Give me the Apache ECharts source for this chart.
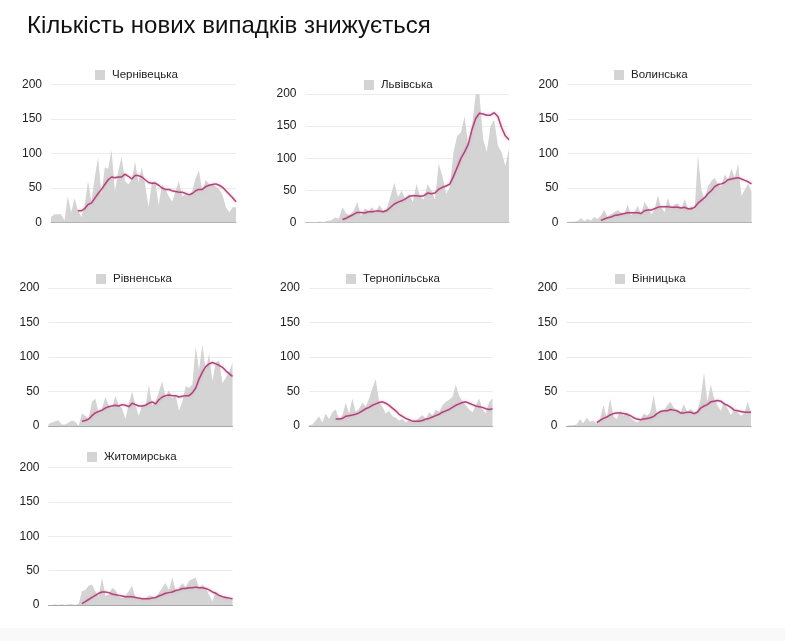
<!DOCTYPE html>
<html>
<head>
<meta charset="utf-8">
<script src="https://cdn.jsdelivr.net/npm/echarts@6/dist/echarts.min.js"></script>
<style>
html,body{margin:0;padding:0;background:#fff;}
#chart{width:785px;height:641px;}
</style>
</head>
<body>
<div id="chart"></div>
<script>
// ---- DATA ----
const TITLE = 'Кількість нових випадків знижується';
const REGIONS = ['Чернівецька','Львівська','Волинська','Рівненська','Тернопільська','Вінницька','Житомирська'];
const Y_TICKS = [0, 50, 100, 150, 200];

const CHERNIVTSI_DAILY = [8,12,12,12,3,38,15,35,18,8,25,60,30,65,95,40,80,78,105,45,75,95,60,55,62,88,58,80,55,22,58,60,25,55,48,38,30,45,60,38,40,38,45,65,75,45,62,55,55,52,48,40,22,15,22,22];
const CHERNIVTSI_AVG = [null,null,null,null,null,null,null,null,17,17,20,26,28,35,42,48,55,62,66,65,66,66,70,67,63,68,68,66,62,58,57,57,54,50,48,48,46,45,44,44,42,40,42,46,48,48,52,54,55,56,54,51,46,41,36,30];

const LVIV_DAILY = [1,1,1,1,2,1,3,4,8,6,24,14,12,18,32,10,22,18,24,16,28,18,22,42,62,40,50,36,44,32,60,40,36,60,50,36,92,72,45,55,110,135,140,165,120,150,200,200,130,110,150,160,120,110,88,115];
const LVIV_AVG = [null,null,null,null,null,null,null,null,null,null,5,7,10,13,16,16,15,17,17,18,18,17,19,24,29,32,34,37,41,42,42,41,42,46,45,46,52,55,57,60,72,86,100,110,122,145,162,170,169,167,167,171,165,148,135,129];

const VOLYN_DAILY = [1,1,1,2,6,2,5,3,8,5,10,18,8,12,15,18,14,12,26,10,16,24,12,30,22,12,18,40,22,15,36,20,26,28,18,34,20,24,18,98,48,32,52,60,65,55,52,70,62,78,65,85,38,48,56,45];
const VOLYN_AVG = [null,null,null,null,null,null,null,null,null,null,3,5,7,8,10,11,12,13,14,14,14,14,13,17,18,18,20,22,23,23,23,22,22,22,21,22,20,20,22,28,32,36,42,46,52,55,56,58,62,63,64,65,63,61,59,56];

const RIVNE_DAILY = [3,5,7,8,2,2,5,8,6,0,18,15,10,35,40,18,25,42,30,25,44,30,25,10,32,50,30,15,30,28,60,30,35,50,65,42,52,40,45,22,35,58,55,60,115,82,118,80,105,65,92,95,62,70,78,92];
const RIVNE_AVG = [null,null,null,null,null,null,null,null,null,null,7,8,10,15,19,21,23,26,28,29,30,29,31,30,28,33,31,29,29,30,33,35,32,38,42,44,45,44,44,42,43,44,44,48,55,68,78,86,90,92,90,88,85,80,76,72];

const TERNOPIL_DAILY = [1,2,8,14,5,18,10,20,24,10,15,34,18,40,20,25,34,28,40,55,68,35,28,18,22,14,12,8,10,5,8,5,8,12,16,10,20,15,24,20,30,35,38,42,60,44,36,30,24,20,30,40,24,18,35,40];
const TERNOPIL_AVG = [null,null,null,null,null,null,null,null,10,10,11,14,15,16,17,19,22,25,27,30,32,34,35,33,30,26,22,17,14,11,9,7,7,7,8,10,11,13,15,17,20,22,24,27,30,32,34,35,33,31,29,28,27,25,24,25];

const VINNYTSIA_DAILY = [0,1,1,2,10,4,12,6,8,3,10,30,12,40,14,10,22,15,20,12,8,5,8,18,15,20,45,16,20,22,30,35,26,22,20,32,20,25,20,22,40,78,35,60,40,30,22,35,25,16,24,20,15,18,35,20];
const VINNYTSIA_AVG = [null,null,null,null,null,null,null,null,null,5,8,11,13,16,18,19,19,18,17,15,12,10,9,10,11,12,14,18,21,22,22,24,23,22,19,19,20,20,18,20,26,29,31,35,36,37,36,32,30,27,23,22,21,20,20,20];

const ZHYTOMYR_DAILY = [0,0,1,0,1,0,1,1,0,2,20,22,28,30,20,12,40,14,15,25,22,12,10,14,20,28,10,12,10,9,14,13,10,18,25,32,22,40,22,25,32,26,35,38,40,25,30,24,15,5,20,14,10,12,10,10];
const ZHYTOMYR_AVG = [null,null,null,null,null,null,null,null,null,null,2,5,8,11,14,17,19,19,18,16,15,14,13,12,12,12,11,10,9,9,9,10,11,13,15,17,18,19,21,22,24,24,25,25,26,25,25,24,22,19,17,14,12,11,10,9];

const DAILY = [CHERNIVTSI_DAILY, LVIV_DAILY, VOLYN_DAILY, RIVNE_DAILY, TERNOPIL_DAILY, VINNYTSIA_DAILY, ZHYTOMYR_DAILY];
const AVG = [CHERNIVTSI_AVG, LVIV_AVG, VOLYN_AVG, RIVNE_AVG, TERNOPIL_AVG, VINNYTSIA_AVG, ZHYTOMYR_AVG];

// ---- LAYOUT ----
const GRIDS = [
  {left:51,  top:84.5, width:185, height:138},
  {left:305.5, top:94, width:203.5, height:128.7},
  {left:567.5, top:84.5, width:184, height:138},
  {left:48.5, top:288, width:184, height:138},
  {left:309, top:288, width:183.5, height:138},
  {left:566.5, top:288, width:184.5, height:138},
  {left:48.5, top:467.5, width:184, height:137.5}
];
const LEGENDS = [
  {left:90,  top:64},
  {left:359, top:74},
  {left:609, top:64},
  {left:91,  top:268},
  {left:341, top:268},
  {left:610, top:268},
  {left:82,  top:446}
];

const FONT = '"Liberation Sans", Arial, Helvetica, sans-serif';
const AREA_COLOR = '#d4d4d4';
const LINE_COLOR = '#ab4679';

const option = {
  animation: false,
  backgroundColor: '#ffffff',
  title: {
    text: TITLE, left: 22, top: 9,
    textStyle: {fontSize: 24, fontWeight: 'normal', color: '#111', fontFamily: FONT}
  },
  graphic: [{
    type: 'rect', silent: true, z: -10,
    shape: {x: 0, y: 628, width: 785, height: 13},
    style: {fill: '#f9f9f9'}
  }],
  grid: GRIDS.map(g => Object.assign({containLabel: false}, g)),
  legend: REGIONS.map((name, i) => ({
    data: [name], left: LEGENDS[i].left, top: LEGENDS[i].top,
    icon: 'rect', itemWidth: 10, itemHeight: 10, selectedMode: false,
    textStyle: {fontSize: 11.5, color: '#222', fontFamily: FONT, padding: [0, 0, 0, 2]}
  })),
  xAxis: REGIONS.map((_, i) => ({
    type: 'category', gridIndex: i, boundaryGap: false,
    axisLine: {show: true, lineStyle: {color: '#a8a8a8', width: 1}},
    axisTick: {show: false}, axisLabel: {show: false}, splitLine: {show: false}
  })),
  yAxis: REGIONS.map((_, i) => ({
    type: 'value', gridIndex: i, min: Y_TICKS[0], max: Y_TICKS[Y_TICKS.length - 1], interval: Y_TICKS[1] - Y_TICKS[0],
    axisLine: {show: false}, axisTick: {show: false},
    axisLabel: {color: '#222', fontSize: 12, margin: 9, fontFamily: FONT},
    splitLine: {lineStyle: {color: '#ececec', width: 1}}
  })),
  series: []
};

REGIONS.forEach((name, i) => {
  option.series.push({
    type: 'line', name: name, xAxisIndex: i, yAxisIndex: i,
    data: DAILY[i], showSymbol: false, symbol: 'none', silent: true,
    lineStyle: {width: 0},
    itemStyle: {color: AREA_COLOR},
    areaStyle: {color: AREA_COLOR, opacity: 1},
    z: 1
  });
  option.series.push({
    type: 'line', name: name + ' (7 днів)', xAxisIndex: i, yAxisIndex: i,
    data: AVG[i], showSymbol: false, symbol: 'none', silent: true,
    lineStyle: {color: LINE_COLOR, width: 1.5, shadowColor: 'rgba(235,150,190,0.75)', shadowBlur: 3},
    itemStyle: {color: LINE_COLOR},
    z: 3
  });
});

const chart = echarts.init(document.getElementById('chart'), null, {renderer: 'canvas'});
chart.setOption(option);
</script>
</body>
</html>
